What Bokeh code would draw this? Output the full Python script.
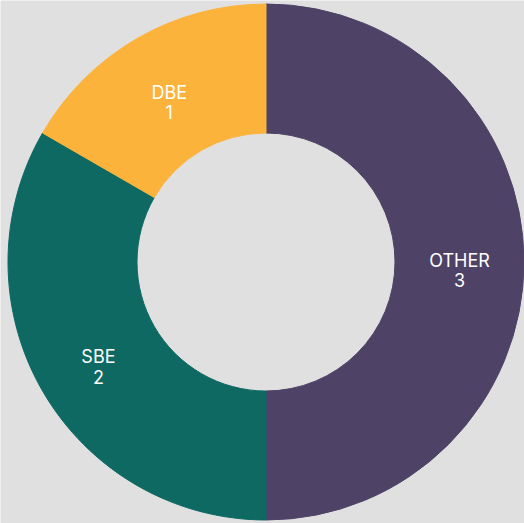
import math
from bokeh.plotting import figure
from bokeh.models import Range1d, ColumnDataSource
from bokeh.core.properties import value
from bokeh.embed import file_html
from bokeh.resources import INLINE

# ---- data ----
categories = ["OTHER", "SBE", "DBE"]
counts = [3, 2, 1]
colors = ["#4e4266", "#0e6963", "#fcb33c"]

BG = "#e0e0e0"
W, H = 524, 523
CX, CY = 265.5, H - 261.5
R_OUT, R_IN = 258, 129

total = sum(counts)
starts, ends, lx, ly = [], [], [], []
cum = 0.0
for c in counts:
    a = cum / total
    b = (cum + c) / total
    starts.append(math.pi / 2 - 2 * math.pi * a)
    ends.append(math.pi / 2 - 2 * math.pi * b)
    mid = math.pi / 2 - 2 * math.pi * (a + b) / 2
    rm = (R_OUT + R_IN) / 2
    lx.append(CX + rm * math.cos(mid))
    ly.append(CY + rm * math.sin(mid) - 8)
    cum += c

src = ColumnDataSource(dict(cat=categories, val=[str(v) for v in counts],
                            color=colors, start=starts, end=ends, lx=lx, ly=ly))

p = figure(width=W, height=H, x_range=Range1d(0, W), y_range=Range1d(0, H),
           output_backend="svg", toolbar_location=None, min_border=0,
           background_fill_color=BG, border_fill_color=BG, outline_line_color=None)
p.axis.visible = False
p.grid.visible = False

p.annular_wedge(x=CX, y=CY, inner_radius=R_IN, outer_radius=R_OUT,
                start_angle="start", end_angle="end", direction="clock",
                fill_color="color", line_color="color", line_width=1, source=src)

p.text(x="lx", y="ly", text="cat", source=src, text_color="white",
       text_font=value("Inter"), text_font_size="18px", text_align="center",
       text_baseline="middle", y_offset=-10)
p.text(x="lx", y="ly", text="val", source=src, text_color="white",
       text_font=value("Inter"), text_font_size="18px", text_align="center",
       text_baseline="middle", y_offset=10)

html = file_html(p, INLINE)
html = html.replace("<body>", '<body style="margin:0;background:%s;overflow:hidden">' % BG, 1)
open("out.html", "w").write(html)
